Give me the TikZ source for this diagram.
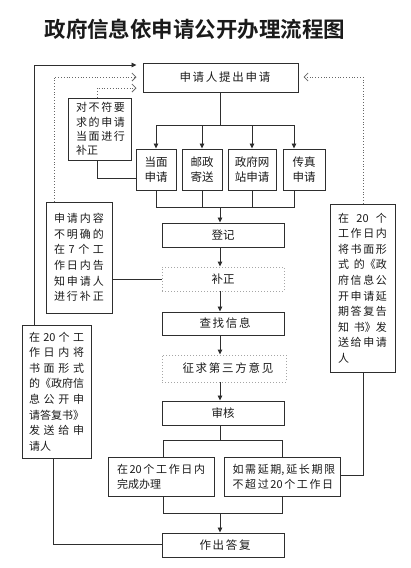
\documentclass[tikz,border=0pt]{standalone}
\usepackage{fontspec}
\setmainfont{Noto Sans CJK SC}[BoldFont={Noto Sans CJK SC Bold}]
\usetikzlibrary{arrows.meta}
\definecolor{lc}{HTML}{2E2E2E}
\definecolor{tc}{HTML}{1A1A1A}
\newcommand{\myfs}[2]{\fontsize{#1}{#2}\selectfont}
\newcommand{\jl}[2]{\makebox[#1pt][s]{#2}}
\begin{document}
\begin{tikzpicture}[x=1pt,y=-1pt,
  box/.style={draw=lc, line width=1pt, inner sep=0pt, text=tc, font=\myfs{11.5}{15}},
  dbox/.style={box, draw=gray!70, dotted, line width=0.9pt},
  side/.style={box, align=left, font=\myfs{11}{15.6}},
  ln/.style={draw=lc, line width=0.9pt},
  arr/.style={ln, -{Triangle[length=5pt,width=4.5pt]}},
  darr/.style={draw=gray!80!black, line width=0.8pt, dotted, -{Straight Barb[length=4pt,width=8pt]}}]
\useasboundingbox (0,0) rectangle (411,568);
\node[font=\bfseries\myfs{21.5}{24}, text=tc] (title) at (195,29) {政府信息依申请公开办理流程图};
% main boxes
\node[box, minimum width=155, minimum height=29] (top) at (220.5,77.5) {\jl{82}{申 请 人 提 出 申 请}};
\node[side, font=\myfs{11}{14.4}, minimum width=63, minimum height=62] (buq) at (99.5,129)
  {\jl{47}{对 不 符 要}\\\jl{47}{求 的 申 请}\\\jl{47}{当 面 进 行}\\补正};
\node[box, align=center, minimum width=40, minimum height=41] (b1) at (156,169.5) {当面\\申请};
\node[box, align=center, minimum width=40, minimum height=41] (b2) at (202,169.5) {邮政\\寄送};
\node[box, align=center, minimum width=48, minimum height=41] (b3) at (252,169.5) {政府网\\站申请};
\node[box, align=center, minimum width=42, minimum height=41] (b4) at (304,169.5) {传真\\申请};
\node[box, minimum width=122, minimum height=24] (reg) at (223,235) {登记};
\node[dbox, minimum width=122, minimum height=24] (fix) at (223,279) {补正};
\node[box, minimum width=122, minimum height=23] (find) at (223,323.5) {\jl{47}{查 找 信 息}};
\node[dbox, minimum width=124, minimum height=27] (ask) at (224,368.5) {\jl{83}{征 求 第 三 方 意 见}};
\node[box, minimum width=122, minimum height=24] (rev) at (223,413) {审核};
\node[side, font=\myfs{11}{15}, minimum width=106, minimum height=39] (done) at (161,476.5)
  {\jl{88}{在 20 个 工 作 日 内}\\完成办理};
\node[side, font=\myfs{11}{15}, minimum width=116, minimum height=39] (ext) at (282,476.5)
  {\jl{99}{如 需 延 期, 延 长 期 限}\\\jl{99}{不 超 过 20 个 工 作 日}};
\node[box, minimum width=122, minimum height=24] (reply) at (223,545) {\jl{47}{作 出 答 复}};
% side boxes
\node[side, minimum width=66, minimum height=111] (L1) at (79,257.5)
  {\jl{50}{申 请 内 容}\\\jl{50}{不 明 确 的}\\\jl{50}{在 7 个 工}\\\jl{50}{作 日 内 告}\\\jl{50}{知 申 请 人}\\\jl{50}{进 行 补 正}};
\node[side, minimum width=69, minimum height=133] (L2) at (56.5,391.5)
  {\jl{55}{在 20 个 工}\\\jl{55}{作 日 内 将}\\\jl{55}{书 面 形 式}\\\jl{55}{的《政府信}\\\jl{55}{息 公 开 申}\\\jl{55}{请答复书》}\\\jl{55}{发 送 给 申}\\请人};
\node[side, minimum width=65, minimum height=168] (R) at (362.5,288)
  {\jl{49}{在 20 个}\\\jl{49}{工 作 日 内}\\\jl{49}{将 书 面 形}\\\jl{49}{式 的《政}\\\jl{49}{府 信 息 公}\\\jl{49}{开 申 请 延}\\\jl{49}{期 答 复 告}\\\jl{49}{知 书》发}\\\jl{49}{送 给 申 请}\\人};
% split to four channels
\coordinate (s1) at (220,125);
\coordinate (c4) at (294,125);
\draw[ln] (top.south -| s1) -- (s1);
\draw[ln] (b1.north |- s1) -- (c4);
\draw[arr] (b1.north |- s1) -- (b1.north);
\draw[arr] (b2.north |- s1) -- (b2.north);
\draw[arr] (b3.north |- s1) -- (b3.north);
\draw[arr] (c4) -- (c4 |- b4.north);
% merge
\coordinate (m1) at (220,207);
\draw[ln] (b1.south) -- (b1.south |- m1) -- (c4 |- m1) -- (c4 |- b4.south);
\draw[ln] (b2.south) -- (b2.south |- m1);
\draw[ln] (b3.south) -- (b3.south |- m1);
\draw[arr] (m1) -- (reg.north -| m1);
\draw[arr] (reg.south -| m1) -- (fix.north -| m1);
\draw[arr] (fix.south -| m1) -- (find.north -| m1);
\draw[arr] (find.south -| m1) -- (ask.north -| m1);
\draw[arr] (ask.south -| m1) -- (rev.north -| m1);
% review split
\coordinate (s2) at (220,440);
\coordinate (d1) at (163,440);
\draw[ln] (rev.south -| s2) -- (s2);
\draw[ln] (done.north -| d1) -- (d1) -- (ext.north |- d1) -- (ext.north);
\coordinate (m2) at (220,513);
\draw[ln] (done.south -| d1) -- (d1 |- m2) -- (ext.south |- m2) -- (ext.south);
\draw[arr] (m2) -- (reply.north -| m2);
% left feedback lines
\coordinate (k1) at (34,65);
\draw[arr, shorten >=6pt] (L2.north -| k1) -- (k1) -- (top.west |- k1);
\coordinate (k2) at (54,77);
\draw[darr, shorten >=6pt] (L1.north -| k2) -- (k2) -- (top.west |- k2);
\coordinate (k3) at (97,88);
\draw[darr, shorten >=6pt] (buq.north -| k3) -- (k3) -- (top.west |- k3);
\coordinate (k4) at (97,178);
\draw[ln] (buq.south -| k4) -- (k4) -- (b1.west |- k4);
\draw[ln] (L1.east |- fix.west) -- (fix.west);
\coordinate (k6) at (53,544);
\draw[ln] (L2.south -| k6) -- (k6) -- (reply.west |- k6);
% right feedback lines
\coordinate (k7) at (363,77);
\draw[darr, shorten >=5pt] (R.north -| k7) -- (k7) -- (top.east |- k7);
\coordinate (k8) at (363,475);
\draw[ln] (R.south -| k8) -- (k8) -- (ext.east |- k8);
\end{tikzpicture}
\end{document}
